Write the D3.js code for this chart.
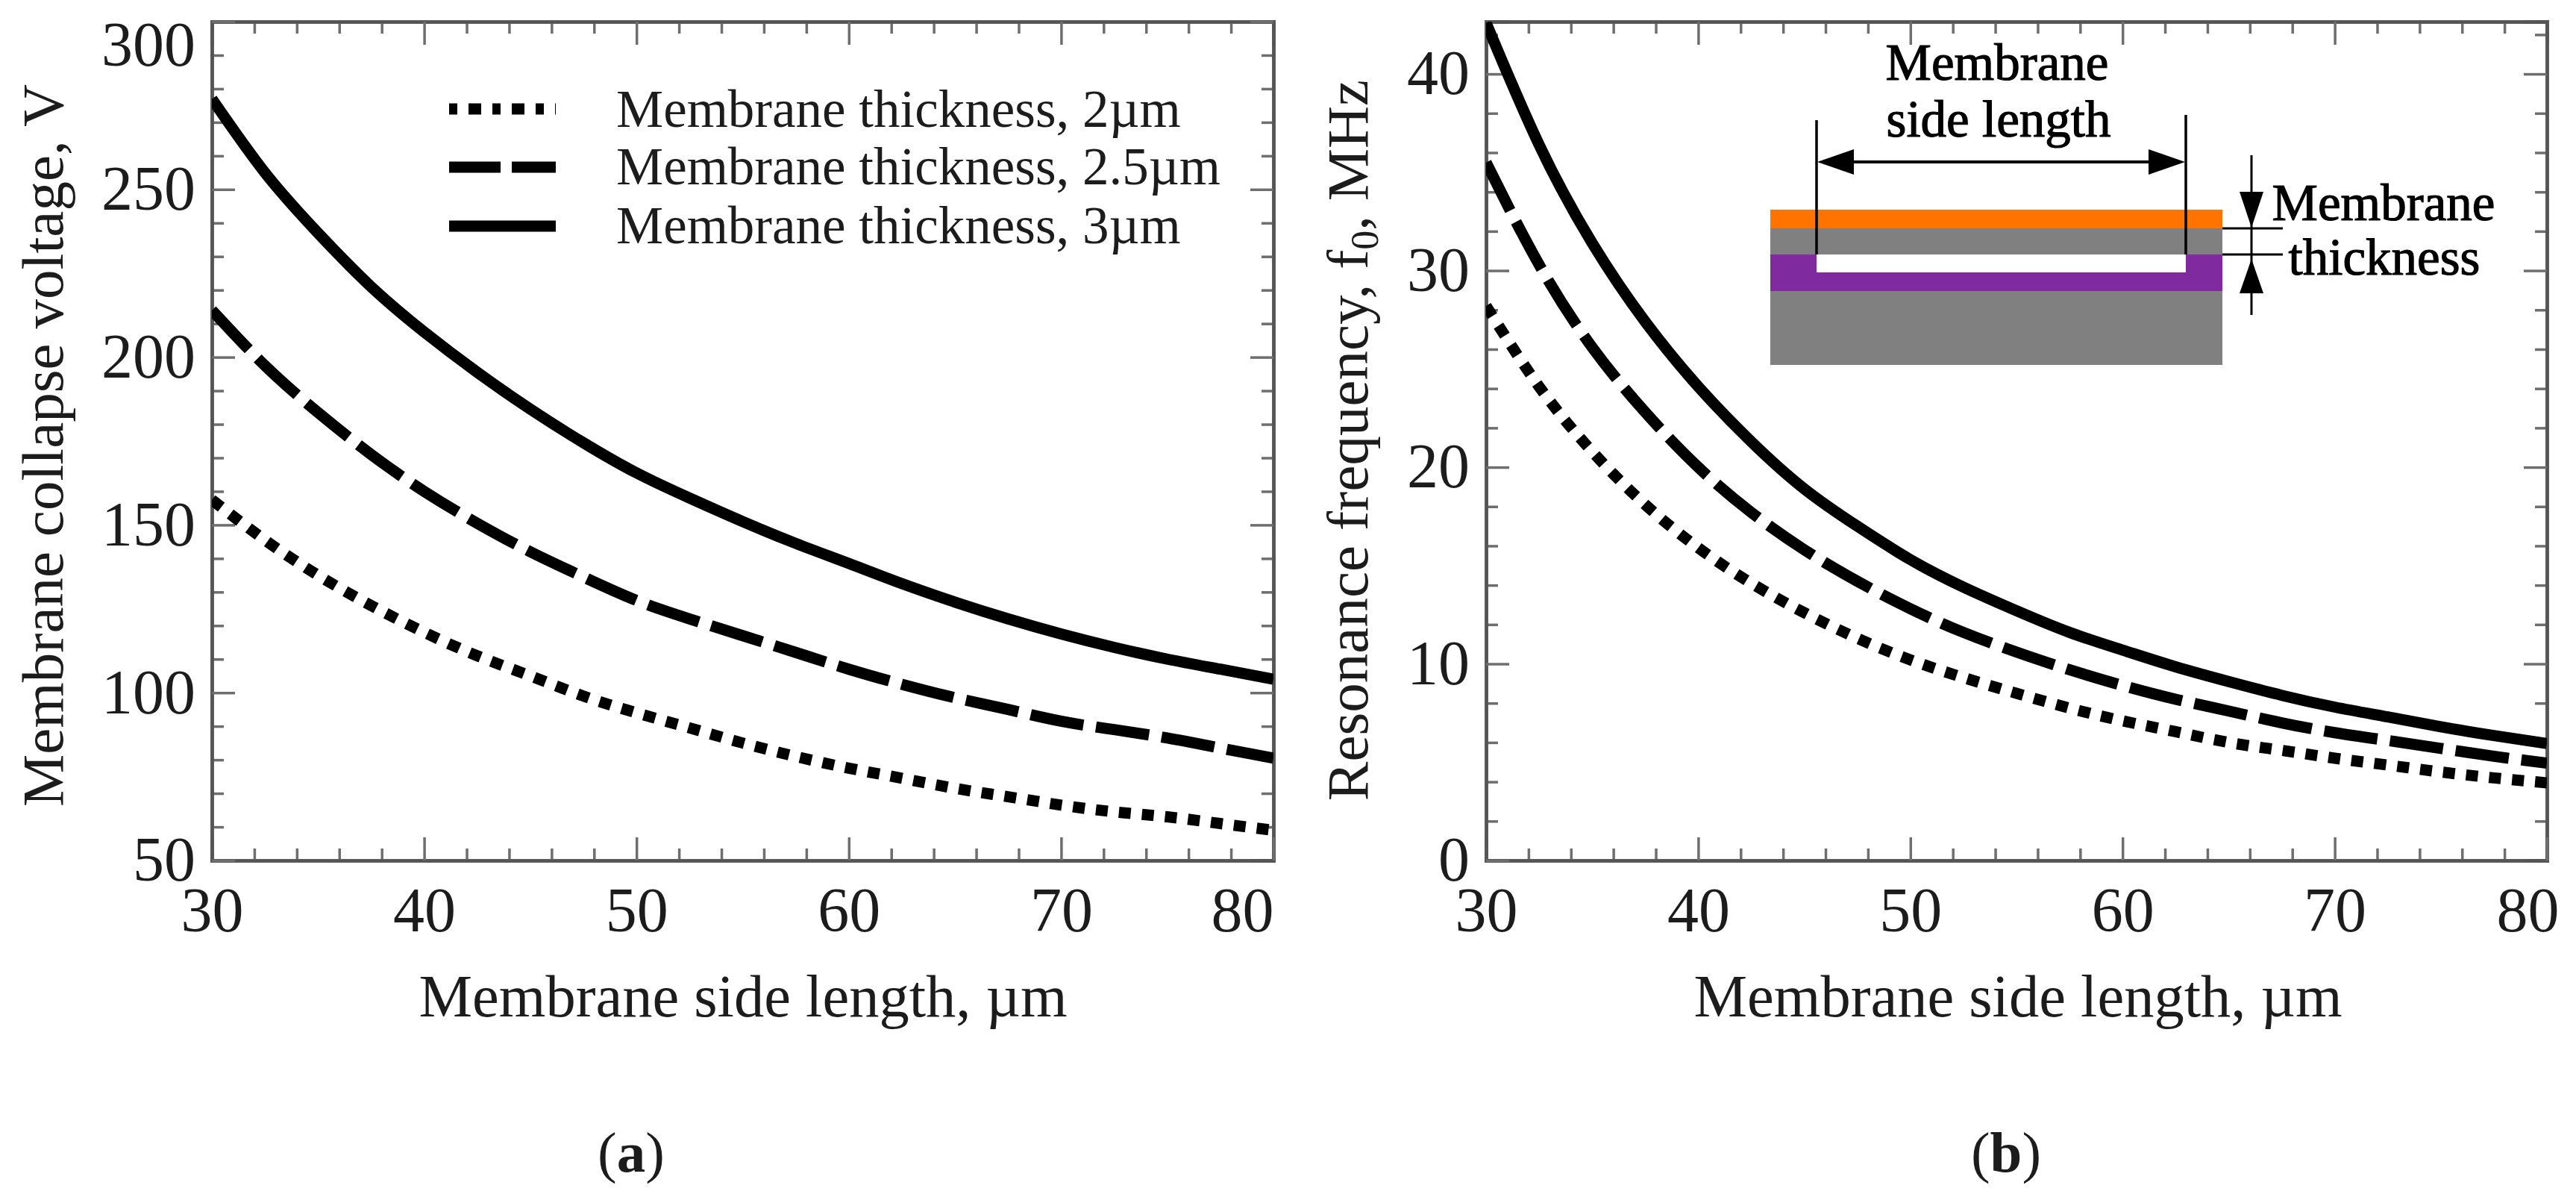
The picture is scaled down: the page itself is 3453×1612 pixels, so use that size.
<!DOCTYPE html>
<html>
<head>
<meta charset="utf-8">
<title>Membrane collapse voltage and resonance frequency</title>
<script src="https://d3js.org/d3.v7.min.js"></script>
<style>
    html, body { margin: 0; padding: 0; background: #fff; }
    svg { display: block; }
    text { font-family: "Liberation Serif", serif; fill: #1c1c1c; }
    .tick text { font-family: "Liberation Serif", serif; fill: #1c1c1c; }
    .inset text { fill: #000; stroke: #000; stroke-width: 1.2px; }
</style>
</head>
<body>
<svg id="chart" width="3453" height="1612"></svg>
<script>
    // values
    const sideLength = [30, 32.5, 35, 37.5, 40, 42.5, 45, 47.5, 50, 52.5, 55, 57.5, 60, 62.5, 65, 67.5, 70, 72.5, 75, 77.5, 80];

    const voltage2um = [157.5, 145.5, 135, 126, 118, 111, 105, 99, 94, 89.5, 85, 81, 77.5, 74.5, 71.5, 69, 66.5, 64.5, 63, 61, 59];
    const voltage25um = [214, 197.5, 183.5, 171, 160, 150.5, 142, 134.5, 127.5, 122, 117, 112, 107, 102.5, 98.5, 95, 91.5, 89, 86.5, 83.5, 80.5];
    const voltage3um = [277, 255, 237, 221, 207.5, 195.5, 184.5, 174.5, 165.5, 158, 151, 144.5, 138.5, 132.5, 127, 122, 117.5, 113.5, 110, 107, 104];

    const freq2um = [28.2, 24.1, 20.8, 18.1, 15.9, 14.1, 12.6, 11.3, 10.2, 9.3, 8.5, 7.75, 7.1, 6.55, 6.0, 5.6, 5.2, 4.85, 4.5, 4.2, 3.95];
    const freq25um = [35.5, 30.3, 26.1, 22.8, 20.0, 17.7, 15.8, 14.2, 12.8, 11.6, 10.6, 9.7, 8.9, 8.2, 7.6, 7.0, 6.5, 6.1, 5.7, 5.3, 4.95];
    const freq3um = [42.6, 36.4, 31.4, 27.4, 24.1, 21.3, 18.9, 17.0, 15.3, 13.9, 12.7, 11.6, 10.7, 9.85, 9.1, 8.4, 7.8, 7.3, 6.8, 6.35, 5.95];

    const legendLabels = ["Membrane thickness, 2µm", "Membrane thickness, 2.5µm", "Membrane thickness, 3µm"];
    const xMajor = [30, 40, 50, 60, 70, 80];
    const xMinor = [32, 34, 36, 38, 42, 44, 46, 48, 52, 54, 56, 58, 62, 64, 66, 68, 72, 74, 76, 78];
    const voltageMajor = [50, 100, 150, 200, 250, 300];
    const voltageMinor = d3.range(60, 300, 10).filter(v => v % 50 != 0);
    const freqMajor = [0, 10, 20, 30, 40];
    const freqMinor = d3.range(2, 43, 2).filter(v => v % 10 != 0);

    const dashes = ["16 15", "72 17", null];
    const svg = d3.select("#chart");

    function drawPanel(p) {
        const x = d3.scaleLinear([30, 80], [p.left, p.right]);
        const y = d3.scaleLinear(p.yDomain, [1153, 29]);
        const g = svg.append("g");

        // ticks on all four sides, pointing in
        const h = 1153 - 29, w = p.right - p.left;
        g.append("g").attr("transform", "translate(0,1153)")
            .call(d3.axisBottom(x).tickValues(xMinor).tickSize(-16).tickFormat(""));
        g.append("g").attr("transform", "translate(0,29)")
            .call(d3.axisTop(x).tickValues(xMinor).tickSize(-16).tickFormat(""));
        g.append("g").attr("transform", "translate(0,29)")
            .call(d3.axisTop(x).tickValues(xMajor).tickSize(-31).tickFormat(""));
        g.append("g").attr("transform", `translate(${p.left},0)`)
            .call(d3.axisLeft(y).tickValues(p.yMinor).tickSize(-16).tickFormat(""));
        g.append("g").attr("transform", `translate(${p.right},0)`)
            .call(d3.axisRight(y).tickValues(p.yMinor).tickSize(-16).tickFormat(""));
        g.append("g").attr("transform", `translate(${p.right},0)`)
            .call(d3.axisRight(y).tickValues(p.yMajor).tickSize(-31).tickFormat(""));

        const bottom = g.append("g").attr("transform", "translate(0,1153)")
            .call(d3.axisBottom(x).tickValues(xMajor).tickSize(-31).tickPadding(35));
        bottom.selectAll("text").attr("font-size", 84)
            .attr("dx", d => d == 80 ? p.lastXShift : 0);

        const left = g.append("g").attr("transform", `translate(${p.left},0)`)
            .call(d3.axisLeft(y).tickValues(p.yMajor).tickSize(-31).tickPadding(22));
        left.selectAll("text").attr("font-size", 84)
            .attr("y", d => d == 300 ? 32 : 0);

        g.selectAll(".domain").attr("stroke", "#555").attr("stroke-width", 4.5);
        g.selectAll(".tick line").attr("stroke", "#6e6e6e").attr("stroke-width", 3.5);

        // curves clipped to the frame
        svg.append("clipPath").attr("id", p.id)
            .append("rect").attr("x", p.left).attr("y", 29).attr("width", w).attr("height", h);

        const line = d3.line().x((d, i) => x(sideLength[i])).y(d => y(d)).curve(d3.curveNatural);
        g.append("g").attr("clip-path", `url(#${p.id})`)
            .selectAll("path")
            .data(p.series)
            .join("path")
            .attr("d", line)
            .attr("fill", "none")
            .attr("stroke", "#000")
            .attr("stroke-width", p.lineWidth)
            .attr("stroke-dasharray", (d, i) => dashes[i]);

        g.append("text").attr("x", p.xTitleX).attr("y", 1362)
            .attr("text-anchor", "middle").attr("font-size", 80.5)
            .text("Membrane side length, µm");

        const yTitle = g.append("text")
            .attr("transform", `translate(${p.yTitleX},${p.yTitleY}) rotate(-90)`)
            .attr("text-anchor", "middle").attr("font-size", 79);
        p.yTitle(yTitle);

        const cap = g.append("text").attr("x", p.capX).attr("y", 1570)
            .attr("text-anchor", "middle").attr("font-size", 77);
        cap.append("tspan").text("(");
        cap.append("tspan").attr("font-weight", "bold").text(p.cap);
        cap.append("tspan").text(")");
    }

    drawPanel({
        id: "clipA", left: 284, right: 1707, yDomain: [50, 300],
        yMajor: voltageMajor, yMinor: voltageMinor,
        series: [voltage2um, voltage25um, voltage3um],
        lineWidth: 15, lastXShift: -42,
        xTitleX: 996, yTitleX: 84, yTitleY: 597, capX: 846, cap: "a",
        yTitle: t => t.text("Membrane collapse voltage, V")
    });

    drawPanel({
        id: "clipB", left: 1992, right: 3414, yDomain: [0, 42.66],
        yMajor: freqMajor, yMinor: freqMinor,
        series: [freq2um, freq25um, freq3um],
        lineWidth: 15, lastXShift: -26,
        xTitleX: 2705, yTitleX: 1833, yTitleY: 590, capX: 2689, cap: "b",
        yTitle: t => {
            t.append("tspan").text("Resonance frequency, f");
            t.append("tspan").attr("font-size", 52).attr("dy", 14).text("0");
            t.append("tspan").attr("dy", -14).text(", MHz");
        }
    });

    // legend of the left panel
    const legendY = [146, 224, 303], legendBase = [170, 247, 326];
    const legend = svg.append("g");
    legend.selectAll("line").data(legendLabels).join("line")
        .attr("x1", 602).attr("x2", 745)
        .attr("y1", (d, i) => legendY[i]).attr("y2", (d, i) => legendY[i])
        .attr("stroke", "#000").attr("stroke-width", 15)
        .attr("stroke-dasharray", (d, i) => i == 0 ? "11 15 17 15" : i == 1 ? "69 15" : null);
    legend.selectAll("text").data(legendLabels).join("text")
        .attr("x", 826).attr("y", (d, i) => legendBase[i])
        .attr("font-size", 71).text(d => d);

    // membrane cross-section drawn in the right panel
    const inset = svg.append("g").attr("class", "inset");
    const rect = (x0, y0, x1, y1, c) => inset.append("rect")
        .attr("x", x0).attr("y", y0).attr("width", x1 - x0).attr("height", y1 - y0).attr("fill", c);
    const seg = (x1, y1, x2, y2, sw) => inset.append("line")
        .attr("x1", x1).attr("y1", y1).attr("x2", x2).attr("y2", y2)
        .attr("stroke", "#000").attr("stroke-width", sw);
    const head = pts => inset.append("polygon").attr("points", pts).attr("fill", "#000");

    rect(2373, 281, 2979, 306, "#ff7300");
    rect(2373, 306, 2979, 341, "#808080");
    rect(2373, 341, 2979, 390, "#7f2a9e");
    rect(2435, 341, 2930, 365, "#fff");
    rect(2373, 390, 2979, 489, "#808080");

    seg(2435, 161, 2435, 341, 3.5);
    seg(2930, 154, 2930, 341, 3.5);
    seg(2470, 217, 2895, 217, 4);
    head("2436,217 2485,200 2485,234");
    head("2929,217 2880,200 2880,234");

    seg(3018, 208, 3018, 422, 3);
    seg(2979, 306, 3060, 306, 3);
    seg(2979, 341, 3060, 341, 3);
    head("3018,305 3002,257 3034,257");
    head("3018,347 3002,393 3034,393");

    const note = (t, cx, base) => inset.append("text").attr("x", cx).attr("y", base)
        .attr("text-anchor", "middle").attr("font-size", 69).text(t);
    note("Membrane", 2677, 107);
    note("side length", 2679, 183);
    note("Membrane", 3195, 295);
    note("thickness", 3196, 368);
</script>
</body>
</html>
